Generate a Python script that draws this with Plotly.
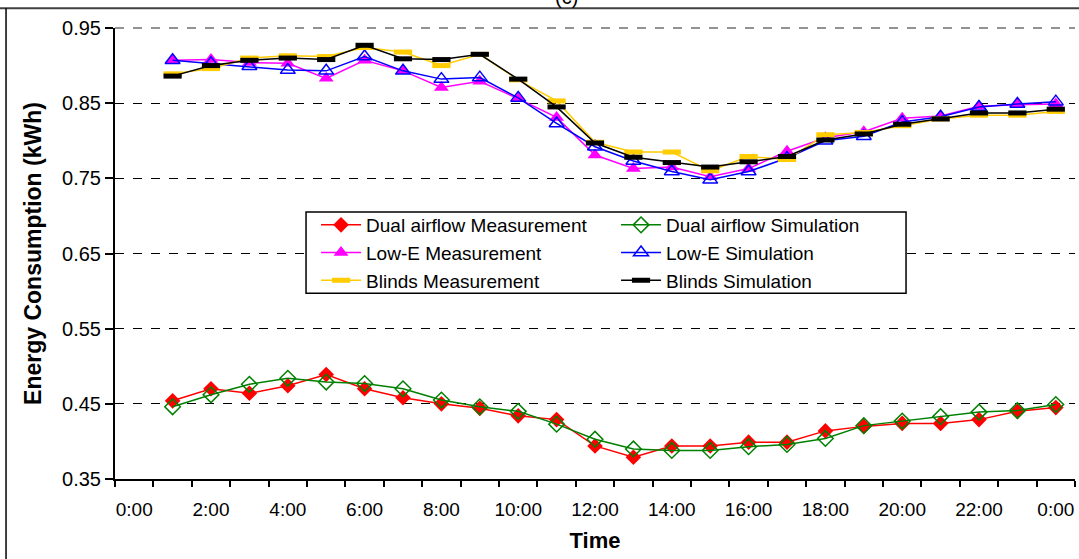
import plotly.graph_objects as go

# ---- data ----
hours = list(range(1, 25))  # 1:00 .. 24:00 (0:00 next day)
tick_labels = ["0:00", "2:00", "4:00", "6:00", "8:00", "10:00", "12:00",
               "14:00", "16:00", "18:00", "20:00", "22:00", "0:00"]
tick_hours = list(range(0, 25, 2))

dual_meas = [0.454, 0.470, 0.464, 0.474, 0.489, 0.470, 0.458, 0.450, 0.444, 0.434, 0.429, 0.394,
             0.379, 0.394, 0.394, 0.399, 0.399, 0.414, 0.420, 0.424, 0.424, 0.429, 0.440, 0.445]
dual_sim = [0.446, 0.462, 0.476, 0.484, 0.479, 0.477, 0.470, 0.455, 0.446, 0.440, 0.423, 0.403,
            0.390, 0.388, 0.388, 0.393, 0.396, 0.404, 0.421, 0.427, 0.433, 0.439, 0.441, 0.449]
lowe_meas = [0.907, 0.908, 0.904, 0.903, 0.883, 0.907, 0.893, 0.871, 0.879, 0.856, 0.831, 0.781,
             0.763, 0.765, 0.752, 0.763, 0.786, 0.804, 0.812, 0.830, 0.833, 0.846, 0.848, 0.849]
lowe_sim = [0.907, 0.903, 0.899, 0.894, 0.893, 0.912, 0.893, 0.882, 0.884, 0.857, 0.823, 0.792,
            0.773, 0.759, 0.748, 0.759, 0.777, 0.800, 0.806, 0.825, 0.832, 0.845, 0.849, 0.852]
blinds_meas = [0.889, 0.896, 0.910, 0.913, 0.912, 0.924, 0.918, 0.900, 0.915, 0.881, 0.853, 0.798,
               0.785, 0.785, 0.760, 0.779, 0.775, 0.808, 0.811, 0.820, 0.829, 0.834, 0.834, 0.839]
blinds_sim = [0.886, 0.900, 0.907, 0.910, 0.908, 0.927, 0.909, 0.908, 0.915, 0.882, 0.845, 0.797,
              0.778, 0.771, 0.765, 0.772, 0.779, 0.801, 0.809, 0.822, 0.829, 0.837, 0.837, 0.842]

FONT = "Liberation Sans, Arial, sans-serif"

series = [
    ("Dual airflow Measurement", dual_meas, "#FF0000", dict(symbol="diamond", size=12, color="#FF0000"), "legend"),
    ("Dual airflow Simulation", dual_sim, "#008000",
     dict(symbol="diamond-open", size=12, color="#008000", line=dict(width=1.5, color="#008000")), "legend2"),
    ("Low-E Measurement", lowe_meas, "#FF00FF", dict(symbol="triangle-up", size=13, color="#FF00FF"), "legend"),
    ("Low-E Simulation", lowe_sim, "#0000FF",
     dict(symbol="triangle-up-open", size=13, color="#0000FF", line=dict(width=1.5, color="#0000FF")), "legend2"),
    ("Blinds Measurement", blinds_meas, "#FFCC00",
     dict(symbol="line-ew", size=13, color="#FFCC00", line=dict(width=5, color="#FFCC00")), "legend"),
    ("Blinds Simulation", blinds_sim, "#000000",
     dict(symbol="line-ew", size=13, color="#000000", line=dict(width=5, color="#000000")), "legend2"),
]

fig = go.Figure()
for name, vals, col, mk, lg in series:
    fig.add_trace(go.Scatter(x=hours, y=vals, name=name, mode="lines+markers", legend=lg,
                             line=dict(color=col, width=1.5), marker=mk))

n_slots = len(hours) + 1
boundaries = [k - 0.5 for k in range(n_slots + 1)]

leg_common = dict(orientation="v", yanchor="top", xanchor="left", borderwidth=0,
                  bgcolor="rgba(0,0,0,0)", font=dict(size=19), itemwidth=40, tracegroupgap=0)

fig.update_layout(
    width=1079, height=559,
    margin=dict(l=115, r=4, t=28, b=80),
    paper_bgcolor="white", plot_bgcolor="white",
    font=dict(family=FONT, size=19, color="black"),
    showlegend=True,
    legend=dict(x=0.2094, y=0.6053, **leg_common),
    legend2=dict(x=0.5219, y=0.6053, **leg_common),
    xaxis=dict(
        range=[-0.5, n_slots - 0.5], tickmode="array", tickvals=tick_hours, ticktext=tick_labels,
        ticks="", showgrid=False, showline=True, linecolor="black", linewidth=2,
        minor=dict(tickmode="array", tickvals=boundaries, ticks="outside", ticklen=6,
                   tickcolor="black", tickwidth=1.5, showgrid=False),
        title=dict(text="<b>Time</b>", font=dict(size=22), standoff=14),
        ticklabelstandoff=12, zeroline=False,
    ),
    yaxis=dict(
        range=[0.35, 0.95], dtick=0.1, tick0=0.35, tickformat=".2f",
        ticks="outside", ticklen=8, tickcolor="black", tickwidth=1.5,
        tickfont=dict(size=20),
        showgrid=True, gridcolor="black", griddash="dash", gridwidth=1,
        showline=True, linecolor="black", linewidth=2, zeroline=False,
        title=dict(text="<b>Energy Consumption (kWh)</b>", font=dict(size=23), standoff=14),
    ),
    yaxis2=dict(overlaying="y", side="right", range=[0.35, 0.95], showline=True,
                linecolor="#808080", linewidth=1.5, showticklabels=False, ticks="",
                showgrid=False, zeroline=False),
)

# plot-area top border (dashed grey) and legend frame
fig.add_shape(type="line", xref="paper", yref="paper", x0=0, x1=1, y0=1, y1=1,
              line=dict(color="#707070", width=1.5, dash="dash"))
fig.add_shape(type="rect", xref="paper", yref="paper", x0=0.199, x1=0.824, y0=0.412, y1=0.592,
              line=dict(color="black", width=1.5), fillcolor="white", layer="above")

# outer frame of the figure (clipped image border)
fig.add_shape(type="line", xref="paper", yref="paper", x0=-0.12, x1=1.01, y0=1.044, y1=1.044,
              line=dict(color="#404040", width=2))
fig.add_shape(type="line", xref="paper", yref="paper", x0=-0.1135, x1=-0.1135, y0=-0.2, y1=1.044,
              line=dict(color="black", width=1.5))

fig.add_annotation(text="(c)", xref="paper", yref="paper", x=0.47, y=1.04, xanchor="center",
                   yanchor="bottom", showarrow=False, font=dict(size=20, family=FONT))

fig.write_html("out.html")
